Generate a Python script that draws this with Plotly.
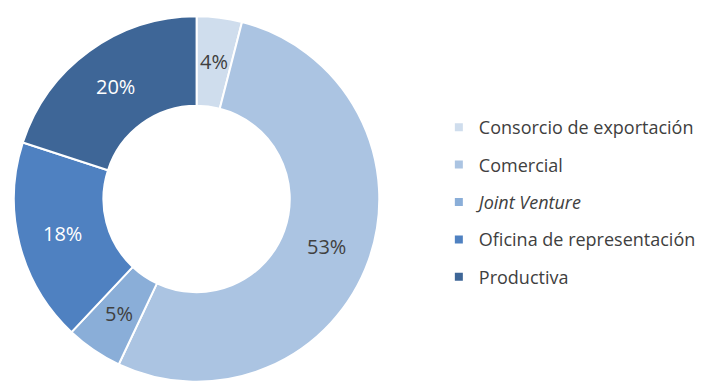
import math
import plotly.graph_objects as go

# Distribution by type of presence abroad (%)
categories = ["Consorcio de exportación", "Comercial", "<i>Joint Venture</i>",
              "Oficina de representación", "Productiva"]
shares = [4, 53, 5, 18, 20]
colors = ["#cfdded", "#abc4e2", "#8aaed8", "#4f81c1", "#3e6697"]
label_colors = ["#404040", "#404040", "#404040", "#ffffff", "#ffffff"]

W, H = 701, 383
MT, MB = 15, 0
HOLE = 0.51
font_family = "Open Sans, Noto Sans, sans-serif"

# Donut geometry (pixels), derived from the pie domain
dom_x = [14 / W, 382 / W]
dom_y = [0, 1]
plot_h = H - MT - MB
cx_px = (dom_x[0] + dom_x[1]) / 2 * W
cy_px = MT + (1 - (dom_y[0] + dom_y[1]) / 2) * plot_h
radius = min((dom_x[1] - dom_x[0]) * W, (dom_y[1] - dom_y[0]) * plot_h) / 2

fig = go.Figure()

fig.add_trace(go.Pie(
    labels=categories,
    values=shares,
    sort=False,
    direction="clockwise",
    rotation=0,
    hole=HOLE,
    marker=dict(colors=colors, line=dict(color="#ffffff", width=2)),
    textinfo="none",
    showlegend=False,
    hoverinfo="label+percent",
    domain=dict(x=dom_x, y=dom_y),
))

# Percentage labels at the middle of each ring segment
total = sum(shares)
mid_r = radius * (1 + HOLE) / 2
cum = 0
for val, tcol in zip(shares, label_colors):
    ang = 2 * math.pi * (cum + val / 2) / total
    cum += val
    px = cx_px + mid_r * math.sin(ang)
    py = cy_px - mid_r * math.cos(ang)
    fig.add_annotation(
        x=px / W, y=(H - MB - py) / plot_h, xref="paper", yref="paper",
        text=f"{val}%", showarrow=False, xanchor="center", yanchor="middle",
        font=dict(family=font_family, size=20, color=tcol),
    )

# Legend entries, one group each so the rows can be spaced apart
for i, (name, col) in enumerate(zip(categories, colors)):
    fig.add_trace(go.Scatter(
        x=[None], y=[None], mode="markers", name=name,
        marker=dict(symbol="square", size=8, color=col),
        legendgroup=f"g{i}", showlegend=True, hoverinfo="skip",
    ))

fig.update_layout(
    width=W, height=H,
    margin=dict(l=0, r=0, t=MT, b=MB),
    paper_bgcolor="#ffffff",
    plot_bgcolor="#ffffff",
    font=dict(family=font_family, size=18, color="#404040"),
    xaxis=dict(visible=False),
    yaxis=dict(visible=False),
    legend=dict(
        x=442 / W, xanchor="left",
        y=(H - 202) / plot_h, yanchor="middle",
        tracegroupgap=11,
        font=dict(family=font_family, size=18, color="#404040"),
        bgcolor="rgba(0,0,0,0)",
    ),
)

fig.write_html("out.html")
